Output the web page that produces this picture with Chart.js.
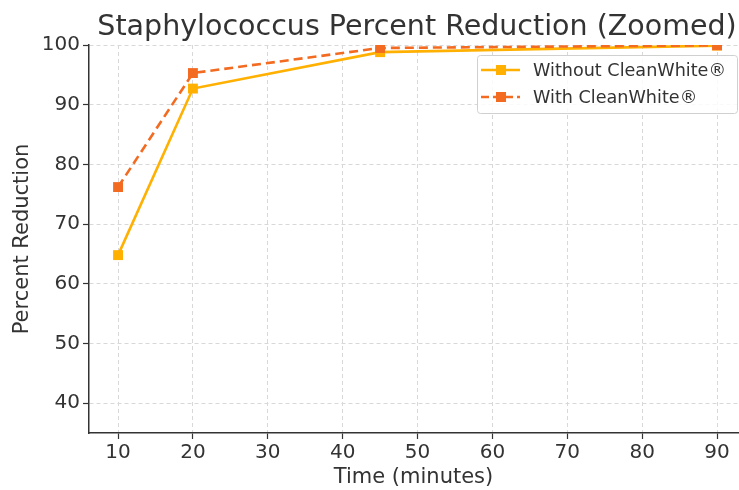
<!DOCTYPE html>
<html>
<head>
<meta charset="utf-8">
<script src="https://cdn.jsdelivr.net/npm/chart.js@4"></script>
<style>
  html, body { margin: 0; padding: 0; background: #fff; overflow: hidden; }
  #wrap { width: 745px; height: 490px; position: relative; }
</style>
</head>
<body>
<div id="wrap"><canvas id="chart"></canvas></div>
<script>
// ─── Data ────────────────────────────────────────────────────────────────────
const times        = [10, 20, 45, 90];
const withoutClean = [64.8, 92.7, 98.8, 99.9];
const withClean    = [76.2, 95.3, 99.5, 99.95];
const xTicks       = [10, 20, 30, 40, 50, 60, 70, 80, 90];
const yTicks       = [40, 50, 60, 70, 80, 90, 100];

const seriesNames  = ['Without CleanWhite®', 'With CleanWhite®'];
const colWithout = '#FFB000';
const colWith    = '#F26B21';
const FONT = '"DejaVu Sans", sans-serif';

const toPoints = vals => times.map((t, i) => ({ x: t, y: vals[i] }));

// ─── Custom title + legend (matplotlib look) ─────────────────────────────────
const decor = {
  id: 'decor',
  afterDraw(chart) {
    const ctx = chart.ctx;
    ctx.save();
    // title
    ctx.fillStyle = '#333';
    ctx.font = '28.5px ' + FONT;
    ctx.textAlign = 'center';
    ctx.textBaseline = 'alphabetic';
    ctx.fillText('Staphylococcus Percent Reduction (Zoomed)', 417, 35);

    // legend box
    const bx = 477, by = 55, bw = 260, bh = 58;
    ctx.fillStyle = 'rgba(255,255,255,0.85)';
    ctx.strokeStyle = '#d0d0d0';
    ctx.lineWidth = 1;
    ctx.beginPath();
    ctx.roundRect(bx + 0.5, by + 0.5, bw, bh, 3);
    ctx.fill();
    ctx.stroke();

    const rows = [
      { label: seriesNames[0], color: colWithout, dash: [] },
      { label: seriesNames[1], color: colWith, dash: [8, 4] },
    ];
    rows.forEach((r, i) => {
      const cy = by + 15 + i * 27;
      ctx.strokeStyle = r.color;
      ctx.lineWidth = 2.5;
      ctx.setLineDash(r.dash);
      ctx.beginPath();
      ctx.moveTo(bx + 4, cy);
      ctx.lineTo(bx + 43, cy);
      ctx.stroke();
      ctx.setLineDash([]);
      ctx.fillStyle = r.color;
      ctx.fillRect(bx + 19, cy - 5, 10, 10);
      ctx.fillStyle = '#333';
      ctx.font = '17.6px ' + FONT;
      ctx.textAlign = 'left';
      ctx.textBaseline = 'middle';
      ctx.fillText(r.label, bx + 56, cy + 1);
    });
    ctx.restore();
  }
};

// ─── Chart ───────────────────────────────────────────────────────────────────
const tickFont = { family: FONT, size: 20 };
const gridCommon = {
  color: '#d8d8d8',
  lineWidth: 1,
  tickColor: '#333',
  tickLength: 6,
  tickWidth: 1.2,
  tickBorderDash: [],
};

new Chart(document.getElementById('chart'), {
  type: 'line',
  data: {
    datasets: [
      {
        label: seriesNames[0],
        data: toPoints(withoutClean),
        borderColor: colWithout,
        backgroundColor: colWithout,
        borderWidth: 2.6,
        pointStyle: 'rect',
        pointRadius: 7,
        pointHoverRadius: 7,
        pointBorderWidth: 0,
        tension: 0,
        order: 2,
      },
      {
        label: seriesNames[1],
        data: toPoints(withClean),
        borderColor: colWith,
        backgroundColor: colWith,
        borderWidth: 2.6,
        borderDash: [9, 5],
        pointStyle: 'rect',
        pointRadius: 7,
        pointHoverRadius: 7,
        pointBorderWidth: 0,
        tension: 0,
        order: 1,
      },
    ],
  },
  options: {
    responsive: true,
    maintainAspectRatio: false,
    animation: false,
    devicePixelRatio: 1,
    layout: { padding: { top: 45, left: 0, right: 0, bottom: 0 } },
    plugins: {
      legend: { display: false },
      title: { display: false },
      tooltip: { enabled: false },
    },
    scales: {
      x: {
        type: 'linear',
        min: 6.12,
        max: 92.8,
        afterBuildTicks: s => { s.ticks = xTicks.map(v => ({ value: v })); },
        afterFit: s => { s.height = 57; },
        ticks: { color: '#333', font: tickFont, padding: 2 },
        grid: gridCommon,
        border: { display: true, color: '#333', width: 1.5, dash: [4, 3] },
        title: {
          display: true, text: 'Time (minutes)', color: '#333',
          font: { family: FONT, size: 21 }, padding: { top: 0, bottom: 0 },
        },
      },
      y: {
        min: 35,
        max: 100,
        afterBuildTicks: s => { s.ticks = yTicks.map(v => ({ value: v })); },
        afterFit: s => { s.width = 89; },
        ticks: { color: '#333', font: tickFont, padding: 3 },
        grid: gridCommon,
        border: { display: true, color: '#333', width: 1.5, dash: [4, 3] },
        title: {
          display: true, text: 'Percent Reduction', color: '#333',
          font: { family: FONT, size: 21 }, padding: { top: 10, bottom: 2 },
        },
      },
    },
  },
  plugins: [decor],
});
</script>
</body>
</html>
